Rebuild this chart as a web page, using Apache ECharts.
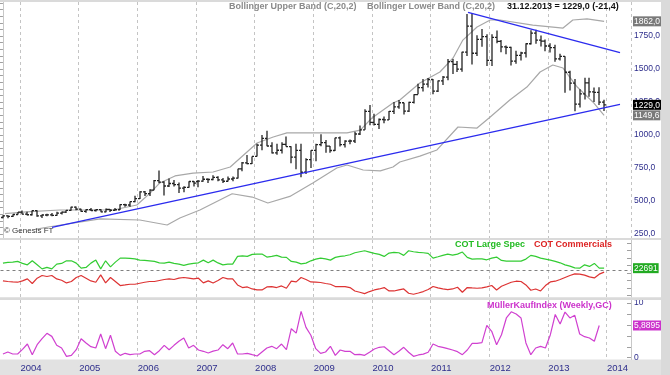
<!DOCTYPE html>
<html><head><meta charset="utf-8">
<script src="https://cdn.jsdelivr.net/npm/echarts@6/dist/echarts.min.js"></script>
<style>html,body{margin:0;padding:0;background:#fff}#c{width:670px;height:375px}</style>
</head><body><div id="c"></div>
<script>
// ---------- categories (monthly, Sep 2003 .. May 2014) ----------
const categories = [];
for (let k = 0; k < 129; k++) {
  const y = 2003 + Math.floor((8 + k) / 12), m = (8 + k) % 12 + 1;
  categories.push(y + '-' + (m < 10 ? '0' + m : m));
}
// ---------- monthly OHLC (gold) ----------
const open = [375,388,384,398, 416,400,396,427,388,394,395,391,408,416,429,453, 438,422,435,428,435,417,437,430,434,473,470,495,
 518,569,556,583,654,643,614,633,624,598,604,648, 648,651,665,663,680,660,650,667,673,743,789,783,
 838,923,975,917,865,885,930,913,833,884,718,814, 884,928,942,916,883,979,927,954,955,1008,1040,1179,
 1096,1081,1118,1115,1180,1213,1245,1181,1248,1307,1359,1386, 1421,1333,1410,1439,1556,1536,1500,1628,1825,1620,1725,1746,
 1566,1740,1710,1669,1664,1561,1604,1622,1692,1773,1720,1712, 1675,1663,1578,1596,1476,1393,1234,1312,1396,1327,1323,1250];
const high = [393,392,399,417, 428,418,428,430,398,404,410,418,420,430,456,458, 441,438,447,438,437,444,439,448,476,480,497,540,
 575,576,590,660,732,650,671,659,641,612,650,652, 660,690,670,695,688,674,685,685,745,795,848,838,
 935,1000,1033,945,935,945,990,915,935,935,825,884, 935,1007,962,917,980,990,960,966,1025,1072,1195,1227,
 1162,1125,1140,1182,1250,1265,1245,1252,1310,1388,1425,1432, 1425,1413,1447,1577,1577,1561,1632,1917,1923,1757,1804,1764,
 1764,1792,1720,1679,1669,1640,1631,1696,1795,1798,1755,1724, 1696,1684,1616,1598,1488,1424,1348,1434,1434,1361,1362,1268];
const low = [370,370,378,398, 400,392,391,381,372,384,385,388,398,410,427,430, 418,411,425,421,414,415,417,428,432,457,456,490,
 516,538,539,582,635,542,606,610,560,566,600,610, 604,646,636,658,650,636,648,650,670,725,778,780,
 838,884,915,860,850,860,913,786,740,681,705,750, 802,915,865,865,880,913,905,930,940,1000,1040,1075,
 1072,1045,1090,1114,1160,1200,1155,1175,1240,1310,1330,1360, 1310,1326,1380,1415,1462,1478,1480,1600,1535,1600,1670,1523,
 1523,1695,1627,1613,1527,1540,1565,1587,1687,1693,1672,1636, 1626,1555,1565,1321,1338,1180,1208,1270,1290,1251,1227,1182];
const close = [388,384,398,416, 400,396,427,388,394,395,391,408,416,429,453,438, 422,435,428,435,417,437,430,434,473,470,495,518,
 569,556,583,654,643,614,633,624,598,604,648,636, 651,665,663,680,660,650,667,673,743,789,783,838,
 923,975,917,865,885,930,913,833,884,718,814,884, 928,942,916,883,979,927,954,955,1008,1040,1179,1096,
 1081,1118,1115,1180,1213,1245,1181,1248,1307,1359,1386,1421, 1333,1410,1439,1556,1536,1500,1628,1825,1620,1725,1746,1566,
 1740,1710,1669,1664,1561,1604,1622,1692,1773,1720,1712,1675, 1663,1578,1596,1476,1393,1234,1312,1396,1327,1323,1250,1229];
// ---------- Bollinger bands (month index, value) ----------
const upperBandX = [0.4,5.5,11.7,22.5,27.4,30.1,32.1,35.2,38.9,43.0,46.5,52.0,55.3,58.1,65.5,70.4,73.1,75.5,79.8,81.2,85.3,89.4,92.1,94.1,97.0,99.7,101.7,108.4,114.6,116.6,119.5,123];
const upperBandV = [405,419,432,432,470,560,637,690,712,720,758,940,985,1016,1016,1016,1038,1129,1243,1266,1394,1478,1584,1720,1819,1872,1872,1834,1811,1872,1880,1862.0];
const lowerBandX = [6.6,9.6,19.9,28.0,33.6,36.2,40.3,46.9,51.0,54.2,58.7,63.4,68.3,70.4,73.7,77.2,79.8,81.2,85.3,88.8,93.1,97.0,99.7,103.7,107.2,109.9,112.5,114.6,117.5,120.7,123];
const lowerBandV = [285,305,364,356,318,371,432,555,530,485,535,637,750,773,735,728,758,796,840,887,1061,1053,1137,1266,1364,1478,1531,1508,1364,1251,1149.6];
// ---------- trend lines (month index, value) ----------
const supportX = [10.04, 126.25], supportV = [301, 1233];
const resistX = [95.15, 126.25], resistV = [1930, 1624];
// ---------- COT (thousand contracts) ----------
const cotLargeSpec = [73,80,83,90,70,56,96,56,16,30,16,63,70,96,96,73,23,30,73,103,16,96,36,83,123,123,120,116,103,100,96,90,76,73,83,70,63,50,63,70,76,103,76,103,75,
 56,63,63,140,146,140,160,163,163,133,140,150,133,130,90,83,66,73,96,113,123,116,103,130,140,146,156,176,186,196,183,170,160,140,173,180,176,150,196,186,180,176,170,
 123,136,150,163,153,163,183,130,113,116,116,106,123,133,100,93,93,93,93,113,150,140,123,113,103,90,76,56,43,26,23,56,40,70,23,22.691];
const cotCommercials = [-104,-110,-114,-117,-104,-84,-130,-77,-50,-60,-50,-84,-97,-124,-110,-70,-50,-77,-104,-117,-44,-124,-70,-110,-150,-144,-137,-137,-127,-117,-110,-110,-100,-90,-84,-90,-77,-70,-77,-84,-77,-124,-104,-125,-100,
 -70,-84,-84,-144,-170,-164,-184,-194,-194,-164,-160,-170,-154,-177,-107,-114,-70,-90,-114,-117,-120,-130,-137,-160,-160,-160,-170,-204,-217,-230,-210,-194,-184,-170,-204,-204,-194,-184,-227,-237,-224,-210,-190,
 -160,-174,-184,-190,-184,-167,-217,-170,-174,-177,-174,-164,-150,-194,-157,-137,-117,-107,-110,-144,-197,-184,-204,-150,-114,-107,-90,-70,-50,-34,-37,-47,-64,-74,-37,-17];
// ---------- MüllerKaufIndex ----------
const muellerIndex = [0.68,1.04,0.68,0.68,1.53,2.5,0.55,2.38,3.47,4.45,3.9,2.26,1.77,0.25,0.43,1.46,3.47,2.69,2.01,1.77,4.33,1.65,4.1,1.17,0.43,0.8,0.55,0.68,0.68,1.17,1.28,0.55,1.28,2.26,1.46,2.26,3.0,3.6,1.77,2.26,1.41,1.17,0.86,1.2,1.4,
 2.38,1.65,2.69,0.68,0.68,0.8,0.55,0.31,1.04,1.77,2.08,1.65,2.5,1.46,5.3,4.5,8.48,5.55,4.1,1.65,0.8,1.04,2.08,0.43,1.41,1.17,1.17,0.55,0.6,0.43,1.0,1.6,1.9,2.0,1.28,0.55,1.17,1.9,1.0,0.25,0.5,0.65,1.0,
 2.5,2.08,1.9,1.65,1.41,1.1,0.55,1.41,2.62,2.62,2.74,5.92,4.83,2.38,4.2,7.26,8.4,7.99,7.26,2.69,0.55,1.77,2.08,1.77,4.2,7.9,6.16,8.35,7.26,7.75,4.33,3.84,3.6,3.0,5.8895,null];
// ---------- tick labels ----------
const priceTicks = [250,500,750,1000,1250,1500,1750];
const priceMinorTicks = [250,300,350,400,450,500,550,600,650,700,750,800,850,900,950,1000,1050,1100,1150,1200,1250,1300,1350,1400,1450,1500,1550,1600,1650,1700,1750,1800,1850,1900,1950,2000];
const muellerTicks = [0,10];
const muellerMinorTicks = [0,2,4,6,8,10];
const cotMinorTicks = [-250,-175,-100,-25,50,125,200,275];

const FONT = "'Liberation Sans',Arial,sans-serif";
const NAVY = '#2e2e8c';
const pair = (xs, vs) => xs.map((x, i) => [x, vs[i]]);
const fmt1 = v => v.toFixed(1).replace('.', ',');
const last = a => { for (let i = a.length - 1; i >= 0; i--) if (a[i] != null) return a[i]; };

const chart = echarts.init(document.getElementById('c'), null, {renderer: 'canvas'});
const gridL = 0.5, gridW = 630.5;
const catAxis = (gi, showLabel) => ({
  type: 'category', gridIndex: gi, data: categories, boundaryGap: true,
  axisLine: {show: false}, axisTick: {show: false},
  axisLabel: showLabel ? {
    show: true, interval: (i, v) => v.endsWith('-01'), formatter: v => v.slice(0, 4),
    align: 'left', padding: [0, 0, 0, -2], color: NAVY, fontFamily: FONT, fontSize: 9.5, margin: 4
  } : {show: false},
  splitLine: {show: true, interval: (i, v) => v.endsWith('-01'), lineStyle: {color: '#c4c4c4', type: [3, 3], width: 1}}
});
const lastClose = close[close.length - 1];
const uLast = upperBandV[upperBandV.length - 1], lLast = lowerBandV[lowerBandV.length - 1];
const boxRich = (bg) => ({backgroundColor: bg, color: '#fff', padding: [1, 1, 0, 1], fontFamily: FONT, fontSize: 8.5});
const axLbl = {color: NAVY, fontFamily: FONT, fontSize: 8.5, margin: 3};

const option = {
  animation: false,
  backgroundColor: '#fff',
  grid: [
    {left: gridL, top: 2, width: gridW, height: 236},
    {left: gridL, top: 240, width: gridW, height: 57.3},
    {left: gridL, top: 300, width: gridW, height: 59.5}
  ],
  xAxis: [
    catAxis(0, false), catAxis(1, false), catAxis(2, true),
    {type: 'value', gridIndex: 0, min: -0.5, max: 128.5, show: false}
  ],
  yAxis: [
    {type: 'value', gridIndex: 0, position: 'right', min: 219.7, max: 2008.6,
     axisLine: {show: true, lineStyle: {color: '#c8c8c8'}},
     axisTick: {show: true, inside: true, length: 4, customValues: priceMinorTicks, lineStyle: {color: '#a0a0a0'}},
     axisLabel: Object.assign({customValues: priceTicks, formatter: fmt1}, axLbl),
     splitLine: {show: false}},
    {type: 'value', gridIndex: 0, position: 'right', min: 219.7, max: 2008.6,
     axisLine: {show: false}, axisTick: {show: false}, splitLine: {show: false},
     axisLabel: {customValues: [uLast, lLast, lastClose], margin: 2,
       formatter: v => (Math.abs(v - lastClose) < 1e-6 ? '{k|' : '{g|') + fmt1(v) + '}',
       rich: {k: boxRich('#000'), g: boxRich('#7a7a7a')}}},
    {type: 'value', gridIndex: 1, position: 'right', min: -267, max: 303,
     axisLine: {show: true, lineStyle: {color: '#c8c8c8'}},
     axisTick: {show: true, inside: true, length: 4, customValues: cotMinorTicks, lineStyle: {color: '#a0a0a0'}},
     axisLabel: {show: false}, splitLine: {show: false}},
    {type: 'value', gridIndex: 1, position: 'right', min: -267, max: 303,
     axisLine: {show: false}, axisTick: {show: false}, splitLine: {show: false},
     axisLabel: {customValues: [last(cotCommercials), last(cotLargeSpec)], margin: 2,
       formatter: v => (v < 0 ? '{r|' : '{g|') + Math.round(v * 1000) + '}',
       rich: {r: boxRich('#cc2222'), g: boxRich('#22aa22')}}},
    {type: 'value', gridIndex: 2, position: 'right', min: -0.33, max: 10.55,
     axisLine: {show: true, lineStyle: {color: '#c8c8c8'}},
     axisTick: {show: true, inside: true, length: 4, customValues: muellerMinorTicks, lineStyle: {color: '#a0a0a0'}},
     axisLabel: Object.assign({customValues: muellerTicks}, axLbl),
     splitLine: {show: false}},
    {type: 'value', gridIndex: 2, position: 'right', min: -0.33, max: 10.55,
     axisLine: {show: false}, axisTick: {show: false}, splitLine: {show: false},
     axisLabel: {customValues: [last(muellerIndex)], margin: 2,
       formatter: v => '{m|' + v.toFixed(4).replace('.', ',') + '}',
       rich: {m: boxRich('#cc33cc')}}}
  ],
  series: [
    {type: 'line', xAxisIndex: 3, yAxisIndex: 0, data: pair(upperBandX, upperBandV), symbol: 'none',
     lineStyle: {color: '#a8a8a8', width: 1.2}, z: 2},
    {type: 'line', xAxisIndex: 3, yAxisIndex: 0, data: pair(lowerBandX, lowerBandV), symbol: 'none',
     lineStyle: {color: '#a8a8a8', width: 1.2}, z: 2},
    {type: 'custom', xAxisIndex: 0, yAxisIndex: 0, z: 3,
     data: open.map((o, i) => [i, o, high[i], low[i], close[i]]),
     encode: {x: 0, y: [1, 2, 3, 4]},
     renderItem: (params, api) => {
       const i = api.value(0);
       const o = api.coord([i, api.value(1)]), h = api.coord([i, api.value(2)]);
       const l = api.coord([i, api.value(3)]), c = api.coord([i, api.value(4)]);
       const x = Math.round(o[0]);
       const st = {stroke: '#222', lineWidth: 1.3};
       return {type: 'group', children: [
         {type: 'line', shape: {x1: x, y1: h[1], x2: x, y2: l[1]}, style: st},
         {type: 'line', shape: {x1: x - 2, y1: o[1], x2: x, y2: o[1]}, style: st},
         {type: 'line', shape: {x1: x, y1: c[1], x2: x + 2, y2: c[1]}, style: st}
       ]};
     }},
    {type: 'line', xAxisIndex: 3, yAxisIndex: 0, data: pair(supportX, supportV), symbol: 'none',
     lineStyle: {color: '#2b2bee', width: 1.3}, z: 4},
    {type: 'line', xAxisIndex: 3, yAxisIndex: 0, data: pair(resistX, resistV), symbol: 'none',
     lineStyle: {color: '#2b2bee', width: 1.3}, z: 4},
    {type: 'line', xAxisIndex: 1, yAxisIndex: 2, data: cotLargeSpec, symbol: 'none',
     lineStyle: {color: '#33cc33', width: 1.2}, z: 3,
     markLine: {silent: true, symbol: 'none', label: {show: false},
       lineStyle: {color: '#808080', type: [3, 3], width: 1}, data: [{yAxis: 0}]}},
    {type: 'line', xAxisIndex: 1, yAxisIndex: 2, data: cotCommercials, symbol: 'none',
     lineStyle: {color: '#dd3333', width: 1.2}, z: 3},
    {type: 'line', xAxisIndex: 2, yAxisIndex: 4, data: muellerIndex, symbol: 'none',
     lineStyle: {color: '#d040d0', width: 1.2}, z: 3}
  ],
  graphic: [
    {type: 'rect', shape: {x: 0, y: 0, width: 670, height: 2}, style: {fill: '#dadada'}, z: 10},
    {type: 'rect', shape: {x: 0, y: 238, width: 670, height: 2}, style: {fill: '#dadada'}, z: 10},
    {type: 'rect', shape: {x: 0, y: 297.3, width: 670, height: 2.7}, style: {fill: '#dadada'}, z: 10},
    {type: 'rect', shape: {x: 0, y: 359.5, width: 670, height: 15.5}, style: {fill: '#e2e2e2'}, z: -1},
    {type: 'rect', shape: {x: 661, y: 0, width: 9, height: 375}, style: {fill: '#dadada'}, z: 10},
    {type: 'text', x: 229, y: 2, z: 20, style: {text: 'Bollinger Upper Band (C,20,2)', fill: '#8a8a8a', font: "bold 9px " + FONT}},
    {type: 'text', x: 367, y: 2, z: 20, style: {text: 'Bollinger Lower Band (C,20,2)', fill: '#8a8a8a', font: "bold 9px " + FONT}},
    {type: 'text', x: 507, y: 2, z: 20, style: {text: '31.12.2013 = 1229,0 (-21,4)', fill: '#111', font: "bold 9px " + FONT}},
    {type: 'text', x: 4, y: 227, z: 20, style: {text: '\u00A9 Genesis FT', fill: '#333', font: "8px " + FONT}},
    {type: 'text', x: 455, y: 240, z: 20, style: {text: 'COT Large Spec', fill: '#22bb22', font: "bold 9px " + FONT}},
    {type: 'text', x: 534, y: 240, z: 20, style: {text: 'COT Commercials', fill: '#dd2222', font: "bold 9px " + FONT}},
    {type: 'text', x: 487, y: 301, z: 20, style: {text: 'M\u00fcllerKaufIndex (Weekly,GC)', fill: '#cc33cc', font: "bold 9px " + FONT}}
  ]
};
chart.setOption(option);
</script></body></html>
